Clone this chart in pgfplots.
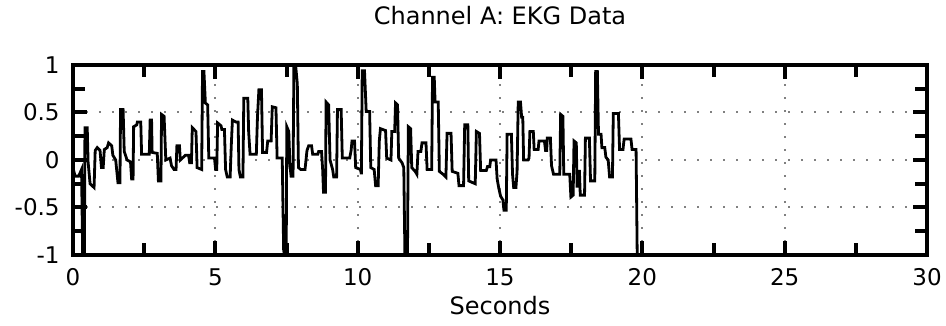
\documentclass[border=0pt]{standalone}
\usepackage{pgfplots}
\pgfplotsset{compat=1.18}
\usetikzlibrary{calc}
\usepackage{fontspec}
\setmainfont{DejaVu Sans}
\begin{document}
\begin{tikzpicture}
\begin{axis}[
  scale only axis,
  width=427pt, height=95pt,
  xmin=0, xmax=30, ymin=-1, ymax=1,
  xtick={0,5,10,15,20,25,30},
  ytick={-1,-0.5,0,0.5,1},
  minor xtick={2.5,7.5,12.5,17.5,22.5,27.5},
  minor ytick={-0.75,-0.25,0.25,0.75},
  xticklabels={0,5,10,15,20,25,30},
  yticklabels={-1,-0.5,0,0.5,1},
  tick align=inside,
  major tick length=7pt,
  minor tick length=6pt,
  every tick/.style={black, line width=2pt},
  axis line style={line width=2.2pt},
  grid=major,
  major grid style={gray, line width=1pt, dash pattern=on 1pt off 5.5pt},
  tick label style={font=\fontsize{11.5}{13}\selectfont, inner sep=0pt},
  xticklabel style={anchor=base, yshift=-15pt},
  yticklabel style={anchor=east, xshift=-6.5pt},
  title={Channel A: EKG Data},
  title style={font=\fontsize{12}{14}\selectfont, at={(0.5,1)}, anchor=base, yshift=14pt},
  xlabel={Seconds},
  xlabel style={font=\fontsize{12}{14}\selectfont, at={(0.5,0)}, anchor=base, yshift=-29.5pt},
]
\coordinate (bl) at (rel axis cs:0,0);
\coordinate (tr) at (rel axis cs:1,1);
\addplot[black, line width=1.4pt, sharp plot] coordinates {
(0,-0.08) (0.07,-0.17) (0.2,-0.17) (0.3,-0.1) (0.34,-1) (0.4,-1) (0.42,0.34) (0.5,0.34)
(0.53,-0.02) (0.6,-0.25) (0.74,-0.29) (0.78,0.1) (0.85,0.13) (0.95,0.1) (1.0,-0.08) (1.06,-0.08)
(1.1,0.11) (1.2,0.13) (1.25,0.18) (1.36,0.15) (1.4,0.05) (1.5,0.0) (1.58,-0.24) (1.65,-0.24)
(1.67,0.53) (1.76,0.53) (1.8,0.09) (1.9,0.0) (2.02,-0.02) (2.06,-0.2) (2.11,-0.2) (2.13,0.35)
(2.24,0.37) (2.26,0.4) (2.38,0.4) (2.41,0.06) (2.68,0.06) (2.71,0.42) (2.76,0.42) (2.78,0.08)
(2.96,0.07) (3.0,-0.22) (3.09,-0.22) (3.11,0.48) (3.2,0.46) (3.26,0.0) (3.41,0.02) (3.46,-0.06)
(3.55,-0.1) (3.62,-0.1) (3.65,0.15) (3.74,0.15) (3.77,0.0) (3.95,0.05)
(4.06,0.05) (4.1,-0.03) (4.16,-0.03) (4.19,0.34) (4.32,0.3) (4.36,-0.08) (4.52,-0.1) (4.55,0.93)
(4.6,0.93) (4.65,0.6) (4.73,0.58) (4.77,0.02) (4.97,0.02) (5.01,-0.1) (5.05,-0.1) (5.08,0.39)
(5.2,0.36) (5.23,0.32) (5.32,0.32) (5.36,-0.1) (5.42,-0.18) (5.52,-0.18) (5.56,0.15) (5.6,0.42)
(5.72,0.4) (5.8,0.4) (5.83,-0.1) (5.88,-0.18) (5.97,-0.18) (6.0,0.65) (6.14,0.65) (6.17,0.3)
(6.22,0.06) (6.44,0.06) (6.48,0.45) (6.53,0.74) (6.62,0.74) (6.66,0.08) (6.8,0.08) (6.84,0.2)
(6.96,0.2) (7.0,0.56) (7.13,0.55) (7.17,0.02) (7.35,0.02) (7.4,-0.95) (7.43,-1) (7.49,-1)
(7.51,0.35) (7.58,0.3) (7.62,-0.05) (7.66,-0.17) (7.73,-0.17) (7.76,1.0) (7.82,1.0) (7.88,0.8)
(7.92,-0.08) (8.0,-0.1)
(8.15,-0.1) (8.22,0.1) (8.28,0.15) (8.38,0.15) (8.42,0.06) (8.6,0.06) (8.63,0.09) (8.73,0.09)
(8.77,-0.1) (8.8,-0.34) (8.87,-0.34) (8.89,0.61) (8.98,0.58) (9.03,0.0) (9.12,-0.1) (9.16,-0.18)
(9.26,-0.18) (9.29,0.53) (9.42,0.53) (9.46,0.02) (9.72,0.02) (9.77,0.1) (9.8,0.2) (9.89,0.2)
(9.93,-0.08) (10.1,-0.1) (10.13,-0.15) (10.16,0.94) (10.24,0.94) (10.3,0.51) (10.42,0.51) (10.46,-0.08)
(10.58,-0.1) (10.63,-0.27) (10.72,-0.27) (10.76,0.2) (10.8,0.33) (10.98,0.31) (11.02,0.02) (11.17,0.0)
(11.2,0.3) (11.3,0.3) (11.33,0.6) (11.4,0.58) (11.44,0.02) (11.56,-0.03) (11.62,-0.08) (11.66,-1)
(11.75,-1) (11.78,0.35) (11.86,0.33) (11.9,-0.08) (12.02,-0.12)
(12.08,-0.15) (12.12,0.09) (12.22,0.09) (12.26,0.18) (12.4,0.18) (12.44,-0.1) (12.6,-0.1) (12.63,0.87)
(12.69,0.87) (12.72,0.61) (12.83,0.61) (12.87,-0.12) (13.0,-0.15) (13.1,-0.18) (13.14,0.28) (13.28,0.28)
(13.32,-0.12) (13.52,-0.14) (13.56,-0.27) (13.72,-0.27) (13.76,0.37) (13.87,0.37) (13.9,-0.22) (14.13,-0.25)
(14.17,0.3) (14.28,0.28) (14.32,-0.11) (14.52,-0.11) (14.56,-0.07) (14.64,-0.07) (14.67,0.0) (14.86,0.0)
(14.9,-0.2) (14.96,-0.3) (15.02,-0.38) (15.1,-0.42) (15.14,-0.53) (15.22,-0.53) (15.25,0.27) (15.4,0.27)
(15.44,-0.15) (15.48,-0.29) (15.56,-0.29) (15.6,-0.12) (15.64,0.61) (15.72,0.61) (15.76,0.45) (15.8,0.45)
(15.83,0.0) (15.98,0.0) (16.02,0.02)
(16.05,0.3) (16.17,0.3) (16.2,0.11) (16.34,0.11) (16.37,0.2) (16.56,0.2) (16.6,0.1) (16.64,0.1)
(16.66,0.23) (16.77,0.23) (16.81,-0.06) (16.88,-0.15) (17.1,-0.15) (17.13,0.48) (17.21,0.46) (17.24,-0.15)
(17.45,-0.15) (17.49,-0.39) (17.57,-0.37) (17.6,0.2) (17.68,0.18) (17.71,-0.29) (17.75,-0.12) (17.79,-0.12)
(17.82,-0.37) (17.97,-0.37) (18.0,0.23) (18.14,0.23) (18.18,-0.22) (18.33,-0.22) (18.36,0.93) (18.42,0.93)
(18.46,0.27) (18.55,0.27) (18.58,0.13) (18.68,0.13) (18.72,0.03) (18.8,0.0) (18.85,-0.18) (18.95,-0.18)
(18.98,0.49) (19.16,0.49) (19.2,0.11) (19.32,0.11) (19.36,0.22) (19.6,0.22) (19.64,0.11) (19.78,0.11)
(19.82,-1)
};
\end{axis}
\pgfresetboundingbox
\path[use as bounding box] ($(bl)+(-36.5pt,-35.5pt)$) rectangle ($(tr)+(9.5pt,32.5pt)$);
\end{tikzpicture}
\end{document}
